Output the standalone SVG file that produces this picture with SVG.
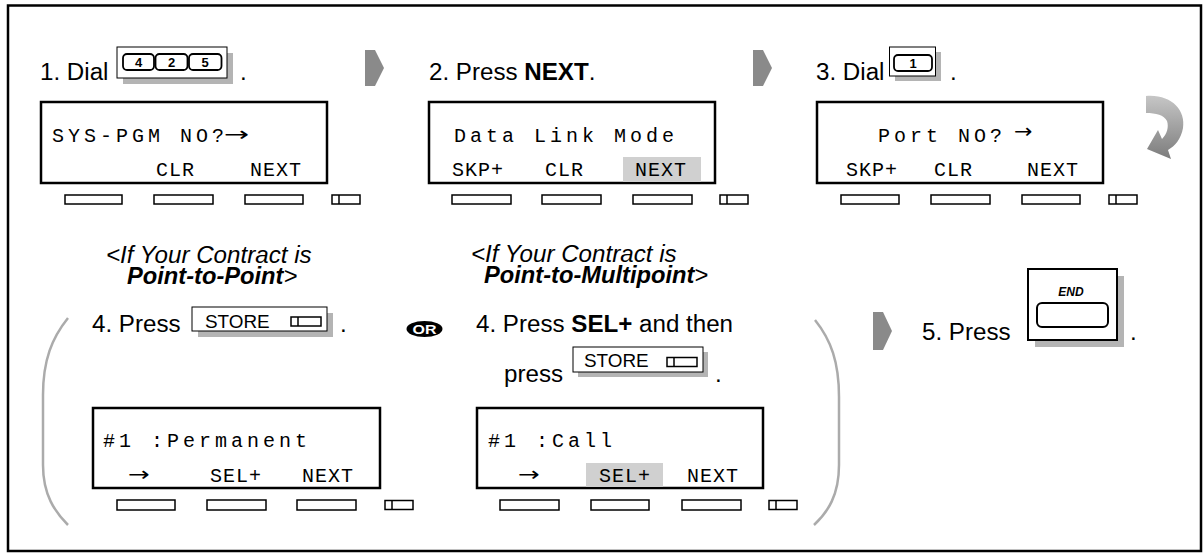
<svg xmlns="http://www.w3.org/2000/svg" width="1203" height="555" viewBox="0 0 1203 555">
<style>
.lbl{font-family:"Liberation Sans",Arial,sans-serif;font-size:23px;fill:#000}
.b{font-weight:bold}
.bi{font-weight:bold;font-style:italic}
.it{font-style:italic}
.disp{fill:#fff;stroke:#000;stroke-width:2.5}
.btn{fill:#fff;stroke:#000;stroke-width:1.5}
.m1{font-family:"Liberation Mono","DejaVu Sans Mono",monospace;font-size:20px;letter-spacing:4px;fill:#000}
.m2{font-family:"Liberation Mono","DejaVu Sans Mono",monospace;font-size:20px;letter-spacing:1px;fill:#000}
.ar{font-family:"DejaVu Sans",sans-serif;font-size:20px;fill:#000}
.hl{fill:#d0d0d0}
.shadow{fill:#b4b4b4}
.kbox{fill:#fff;stroke:#000;stroke-width:1}
.key{fill:#fff;stroke:#000;stroke-width:1.8}
.kd{font-family:"Liberation Sans",Arial,sans-serif;font-size:13px;font-weight:bold;text-anchor:middle}
.st{font-family:"Liberation Sans",Arial,sans-serif;font-size:18px}
.flow{fill:#8a8a8a}
.paren{fill:none;stroke:#ababab;stroke-width:2.5}
</style>
<defs>
<linearGradient id="cg" x1="0" y1="0" x2="0" y2="1">
<stop offset="0" stop-color="#c6c6c6"/>
<stop offset="1" stop-color="#7c7c7c"/>
</linearGradient>
<g id="sbtn"><rect class="btn" x="0" y="0" width="28" height="9"/><line x1="7" y1="0" x2="7" y2="9" stroke="#000" stroke-width="1.5"/></g>
<g id="sico"><rect class="btn" x="0" y="0" width="30" height="9"/><line x1="7" y1="0" x2="7" y2="9" stroke="#000" stroke-width="1.5"/></g>
</defs>

<rect x="8" y="5.5" width="1193" height="545.5" fill="#fff" stroke="#000" stroke-width="2.5"/>

<g id="connectors">
<polygon class="flow" points="365,50 375,50 384,68 375,86 365,86"/>
<polygon class="flow" points="753,50 763,50 772,68 763,86 753,86"/>
<polygon class="flow" points="873,312 883,312 892,331 883,350 873,350"/>
<path fill="url(#cg)" d="M1146,96 C1171,94 1186,110 1183,128 C1181,139 1175,146 1168,150 L1171,159 L1147,149 L1158,130 L1162,139 C1167,134 1169,127 1167,121 C1164,115 1156,113 1146,113 Z"/>
<path class="paren" d="M68,318 C52,338 43,360 43,395 L43,465 C43,495 55,512 68,525"/>
<path class="paren" d="M815,320 C831,340 839,362 839,397 L839,465 C839,495 828,512 814,525"/>
<g id="or-badge">
<ellipse cx="424.5" cy="329" rx="18" ry="8" fill="#000"/>
<text x="424.5" y="333.5" font-family="Liberation Sans,Arial,sans-serif" font-size="13" font-weight="bold" fill="#fff" text-anchor="middle" textLength="24" lengthAdjust="spacingAndGlyphs">OR</text>
</g>
</g>

<g id="step1">
<text class="lbl" transform="matrix(1.05 0 0 1 40 80)">1. Dial</text>
<rect class="shadow" x="123" y="53" width="110" height="31"/>
<rect class="kbox" x="117" y="47" width="110" height="31"/>
<rect class="key" x="123" y="54" width="31" height="16" rx="4"/>
<rect class="key" x="155.5" y="54" width="32" height="16" rx="4"/>
<rect class="key" x="189" y="54" width="32.5" height="16" rx="4"/>
<text class="kd" x="138.5" y="66.5">4</text>
<text class="kd" x="171.5" y="66.5">2</text>
<text class="kd" x="205" y="66.5">5</text>
<text class="lbl" transform="matrix(1.05 0 0 1 240 80)">.</text>
<rect class="disp" x="41" y="102" width="286" height="81"/>
<text class="m1" x="52" y="142">SYS-PGM NO?</text>
<text class="ar" transform="matrix(1.5 0 0 1 224 141)">→</text>
<text class="m2" x="156" y="176">CLR</text>
<text class="m2" x="250" y="176">NEXT</text>
<rect class="btn" x="65" y="195" width="57" height="9"/>
<rect class="btn" x="154" y="195" width="59" height="9"/>
<rect class="btn" x="245" y="195" width="58" height="9"/>
<use href="#sbtn" x="332" y="195"/>
</g>

<g id="step2">
<text class="lbl" transform="matrix(1.05 0 0 1 429 80)">2. Press <tspan class="b">NEXT</tspan>.</text>
<rect class="disp" x="429" y="102" width="286" height="81"/>
<rect class="hl" x="623" y="157" width="78" height="25"/>
<text class="m1" x="454" y="142">Data Link Mode</text>
<text class="m2" x="452" y="176">SKP+</text>
<text class="m2" x="545" y="176">CLR</text>
<text class="m2" x="635" y="176">NEXT</text>
<rect class="btn" x="452" y="195" width="59" height="9"/>
<rect class="btn" x="542" y="195" width="59" height="9"/>
<rect class="btn" x="633" y="195" width="59" height="9"/>
<use href="#sbtn" x="720" y="195"/>
</g>

<g id="step3">
<text class="lbl" transform="matrix(1.05 0 0 1 816 80)">3. Dial</text>
<rect class="shadow" x="895" y="52" width="46" height="29"/>
<rect class="kbox" x="889.5" y="47" width="46" height="29"/>
<rect class="key" x="894" y="55" width="38" height="16" rx="4"/>
<text class="kd" x="913" y="67.5">1</text>
<text class="lbl" transform="matrix(1.05 0 0 1 950 80)">.</text>
<rect class="disp" x="817" y="102" width="286" height="81"/>
<text class="m1" x="878" y="142">Port NO?</text>
<text class="ar" transform="matrix(1.1 0 0 1 1014 138)">→</text>
<text class="m2" x="846" y="176">SKP+</text>
<text class="m2" x="934" y="176">CLR</text>
<text class="m2" x="1027" y="176">NEXT</text>
<rect class="btn" x="841" y="195" width="58" height="9"/>
<rect class="btn" x="931" y="195" width="59" height="9"/>
<rect class="btn" x="1022" y="195" width="58" height="9"/>
<use href="#sbtn" x="1109" y="195"/>
</g>

<g id="step4a">
<text class="lbl it" transform="matrix(1.05 0 0 1 106 263)">&lt;If Your Contract is</text>
<text class="lbl" transform="matrix(1.03 0 0 1 127 284)"><tspan class="bi">Point-to-Point</tspan><tspan class="it">&gt;</tspan></text>
<text class="lbl" transform="matrix(1.05 0 0 1 92 332)">4. Press</text>
<rect class="shadow" x="198" y="313" width="135" height="24"/>
<rect class="kbox" x="192" y="307" width="135" height="24"/>
<text class="st" transform="matrix(1.05 0 0 1 205 328)">STORE</text>
<use href="#sico" x="291" y="317"/>
<text class="lbl" transform="matrix(1.05 0 0 1 340 332)">.</text>
<rect class="disp" x="93" y="408" width="287" height="80"/>
<text class="m1" x="103" y="447">#1 :Permanent</text>
<text class="ar" transform="matrix(1.3 0 0 1 128 481)">→</text>
<text class="m2" x="210" y="482">SEL+</text>
<text class="m2" x="302" y="482">NEXT</text>
<rect class="btn" x="117" y="500" width="58" height="10"/>
<rect class="btn" x="207" y="500" width="59" height="10"/>
<rect class="btn" x="297" y="500" width="59" height="10"/>
<use href="#sbtn" x="385" y="500.5"/>
</g>

<g id="step4b">
<text class="lbl it" transform="matrix(1.05 0 0 1 471 262)">&lt;If Your Contract is</text>
<text class="lbl" transform="matrix(1.03 0 0 1 484 283)"><tspan class="bi">Point-to-Multipoint</tspan><tspan class="it">&gt;</tspan></text>
<text class="lbl" transform="matrix(1.05 0 0 1 476 332)">4. Press <tspan class="b">SEL+</tspan> and then</text>
<text class="lbl" transform="matrix(1.05 0 0 1 504 382)">press</text>
<rect class="shadow" x="578" y="352" width="130" height="25"/>
<rect class="kbox" x="573" y="347" width="130" height="25"/>
<text class="st" transform="matrix(1.05 0 0 1 584 367)">STORE</text>
<use href="#sico" x="667" y="357.5"/>
<text class="lbl" transform="matrix(1.05 0 0 1 715 382)">.</text>
<rect class="disp" x="477" y="408" width="286" height="80"/>
<rect class="hl" x="586" y="463" width="77" height="24"/>
<text class="m1" x="488" y="447">#1 :Call</text>
<text class="ar" transform="matrix(1.3 0 0 1 518 481)">→</text>
<text class="m2" x="599" y="482">SEL+</text>
<text class="m2" x="687" y="482">NEXT</text>
<rect class="btn" x="500" y="500" width="59" height="10"/>
<rect class="btn" x="591" y="500" width="58" height="10"/>
<rect class="btn" x="682" y="500" width="59" height="10"/>
<use href="#sbtn" x="769" y="500.5"/>
</g>

<g id="step5">
<text class="lbl" transform="matrix(1.05 0 0 1 922 340)">5. Press</text>
<rect class="shadow" x="1035" y="276" width="89" height="71"/>
<rect x="1028" y="269" width="89" height="71" fill="#fff" stroke="#000" stroke-width="2"/>
<text x="1071" y="296" font-family="Liberation Sans,Arial,sans-serif" font-size="12" font-weight="bold" font-style="italic" text-anchor="middle">END</text>
<rect x="1037" y="303" width="71" height="24" rx="5" fill="#fff" stroke="#000" stroke-width="2"/>
<text class="lbl" transform="matrix(1.05 0 0 1 1130 340)">.</text>
</g>
</svg>
